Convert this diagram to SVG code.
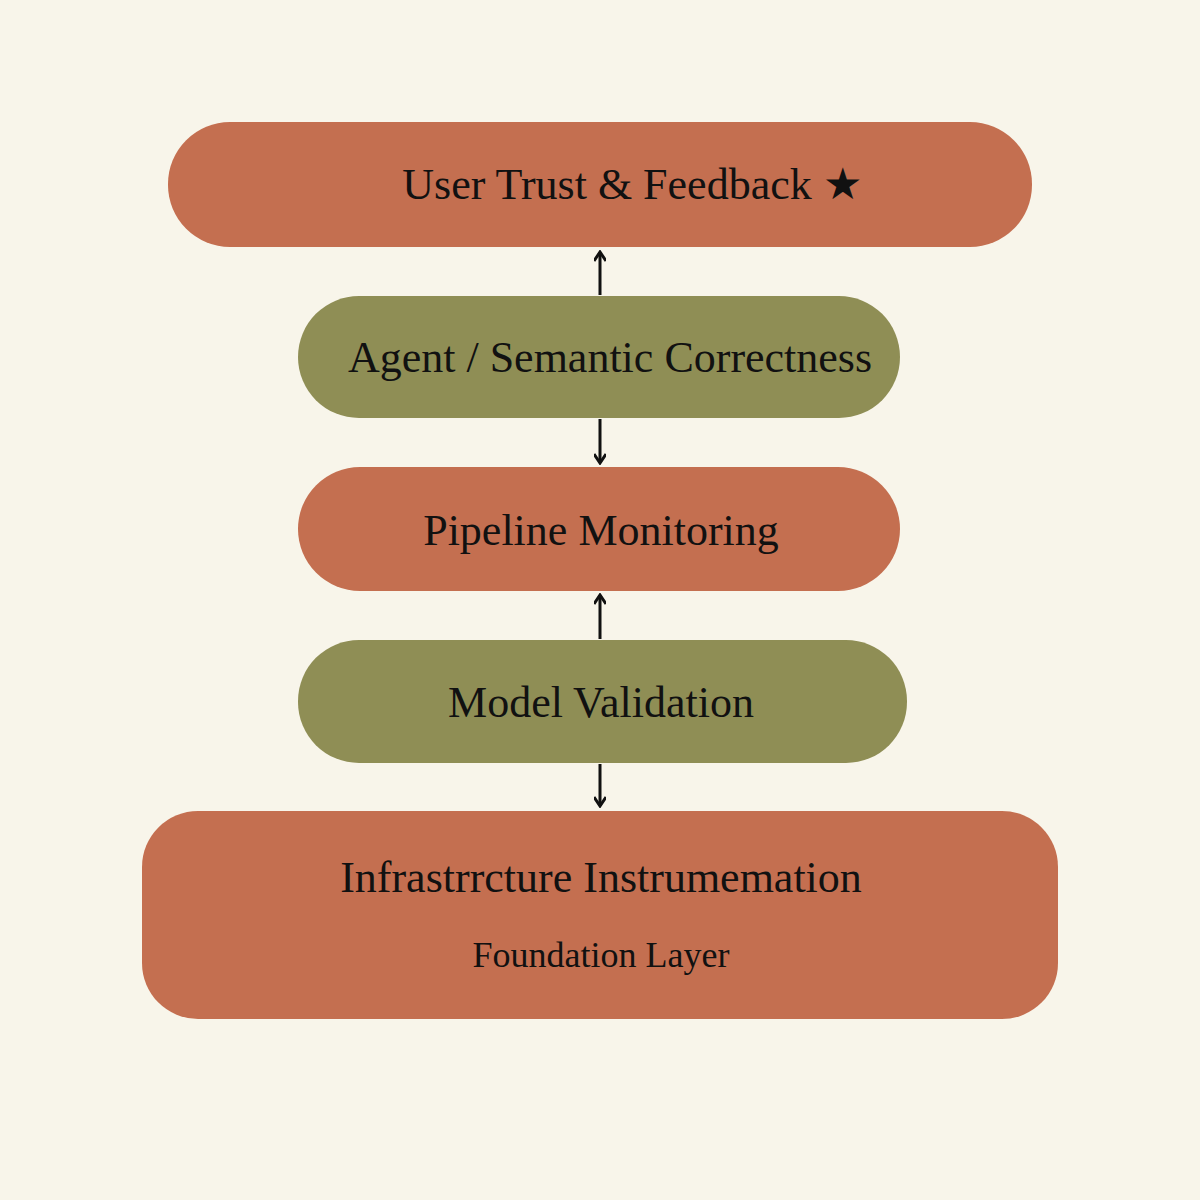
<svg xmlns="http://www.w3.org/2000/svg" width="1200" height="1200" viewBox="0 0 1200 1200">
<style>
.r{fill:#C46F50}.g{fill:#8F8E55}
text{font-family:"Liberation Serif","DejaVu Serif",serif;fill:#111;text-anchor:middle}
.t{font-size:44px}.s{font-size:36px}
.c{stroke:#111;stroke-width:3;fill:none}
</style>
<defs><marker id="a" markerWidth="12" markerHeight="12" refX="10" refY="6" orient="auto" markerUnits="userSpaceOnUse"><path d="M1,0 L10,6 L1,12" fill="none" stroke="#111" stroke-width="3"/></marker></defs>
<rect width="1200" height="1200" fill="#F8F5EA"/>
<g id="n1"><rect class="r" x="168" y="122" width="864" height="125" rx="62"/><text class="t" x="632" y="199">User Trust &amp; Feedback ★</text></g>
<g id="n2"><rect class="g" x="298" y="296" width="602" height="122" rx="61"/><text class="t" x="610" y="372">Agent / Semantic Correctness</text></g>
<g id="n3"><rect class="r" x="298" y="467" width="602" height="124" rx="62"/><text class="t" x="601" y="545">Pipeline Monitoring</text></g>
<g id="n4"><rect class="g" x="298" y="640" width="609" height="123" rx="61"/><text class="t" x="601" y="717">Model Validation</text></g>
<g id="n5"><rect class="r" x="142" y="811" width="916" height="208" rx="56"/><text class="t" x="601" y="892">Infrastrrcture Instrumemation</text><text class="s" x="601" y="967">Foundation Layer</text></g>
<g id="connectors">
<line class="c" x1="600" y1="295" x2="600" y2="252" marker-end="url(#a)"/>
<line class="c" x1="600" y1="419" x2="600" y2="463" marker-end="url(#a)"/>
<line class="c" x1="600" y1="639" x2="600" y2="595" marker-end="url(#a)"/>
<line class="c" x1="600" y1="764" x2="600" y2="806" marker-end="url(#a)"/>
</g>
</svg>
